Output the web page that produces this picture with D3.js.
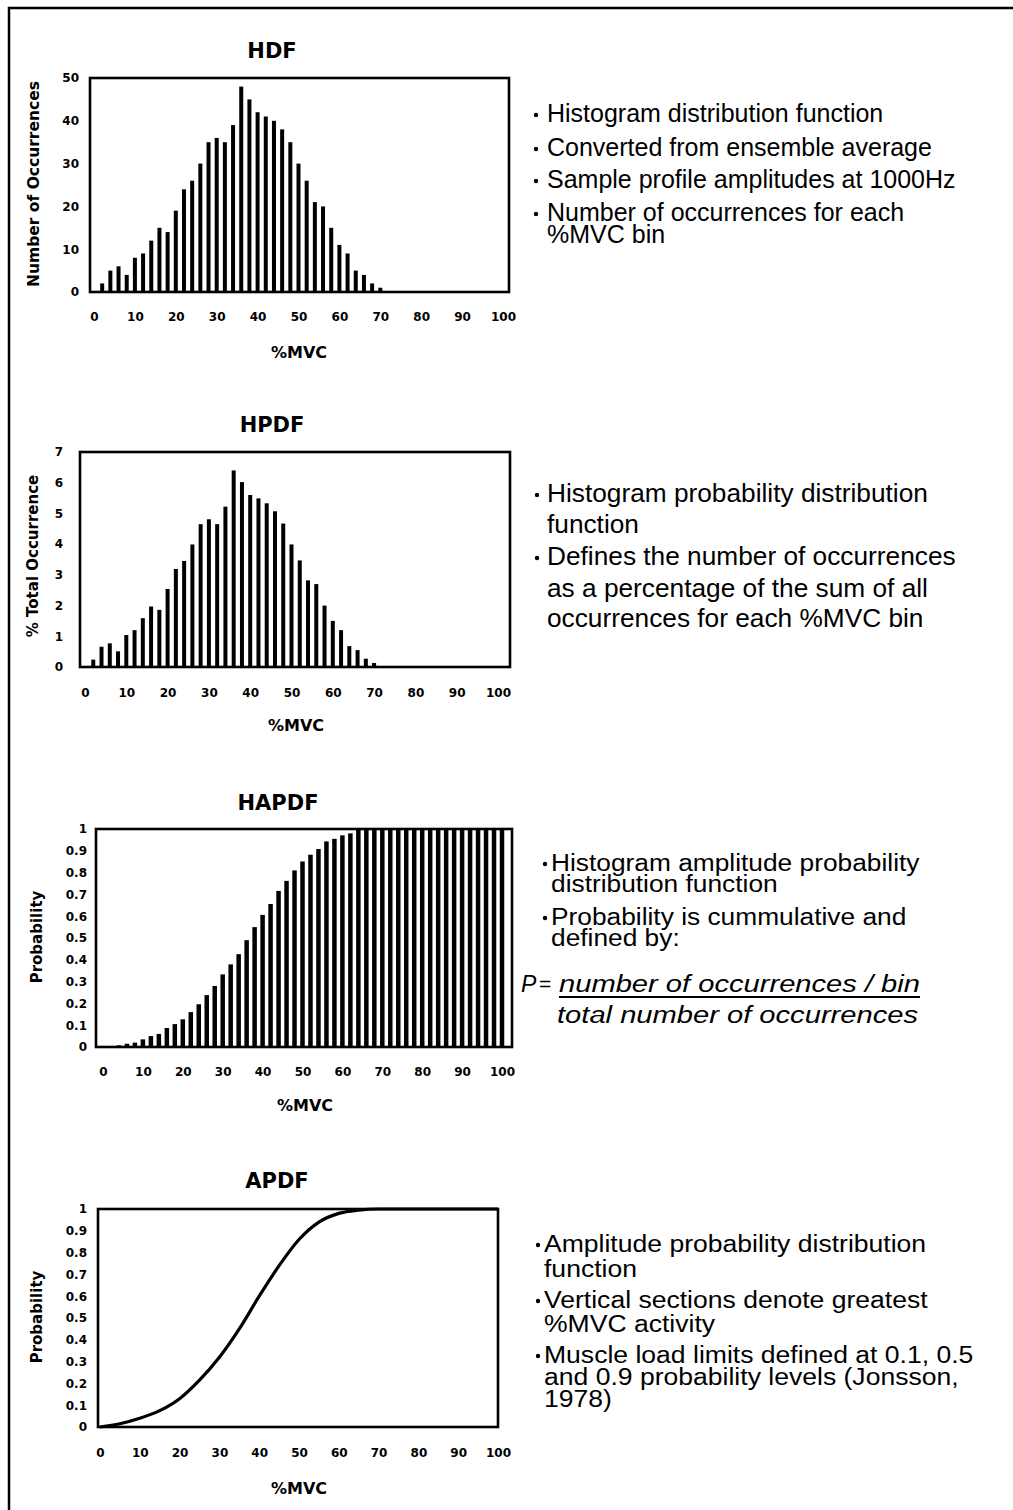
<!DOCTYPE html>
<html>
<head>
<meta charset="utf-8">
<script src="https://cdn.jsdelivr.net/npm/d3@7"></script>
<style>
body{margin:0;background:#fff}
svg{display:block}
</style>
</head>
<body>
<svg id="chart"></svg>
<script>
// %MVC bins (bar positions)
var binMvc = [2,4,6,8,10,12,14,16,18,20,22,24,26,28,30,32,34,36,38,40,
              42,44,46,48,50,52,54,56,58,60,62,64,66,68,70,72,74,76,78,80,
              82,84,86,88,90,92,94,96,98,100]

// HDF - number of occurrences per bin
var hdfCounts = [2,5,6,4,8,9,12,15,14,19,24,26,30,35,36,35,39,48,45,42,
                 41,40,38,35,30,26,21,20,15,11,9,5,4,2,1,0,0,0,0,0,
                 0,0,0,0,0,0,0,0,0,0]

// HPDF - % total occurrence per bin
var hpdfPercent = [0.24,0.66,0.77,0.51,1.04,1.2,1.59,1.97,1.86,2.54,
                   3.19,3.45,3.99,4.65,4.81,4.65,5.22,6.4,6.02,5.6,
                   5.49,5.33,5.07,4.67,3.99,3.47,2.82,2.7,2.0,1.5,
                   1.2,0.68,0.55,0.27,0.13,0,0,0,0,0,
                   0,0,0,0,0,0,0,0,0,0]

// HAPDF - cumulative probability per bin
var hapdfProb = [0.003,0.008,0.015,0.02,0.035,0.05,0.06,0.087,0.105,0.127,
                 0.16,0.196,0.238,0.28,0.333,0.379,0.426,0.49,0.55,0.606,
                 0.656,0.716,0.762,0.81,0.851,0.882,0.908,0.943,0.955,0.971,
                 0.98,1,1,1,1,1,1,1,1,1,
                 1,1,1,1,1,1,1,1,1,1]

// APDF - smooth curve
var apdfMvc  = [0,5,10,15,20,25,30,35,40,45,50,55,60,65,70,80,90,100]
var apdfProb = [0,0.015,0.04,0.075,0.13,0.215,0.32,0.45,0.6,0.74,0.86,0.94,0.98,0.995,1,1,1,1]

// tick labels
var mvcTicks  = [0,10,20,30,40,50,60,70,80,90,100]
var hdfTicks  = [0,10,20,30,40,50]
var hpdfTicks = [0,1,2,3,4,5,6,7]
var probTicks = [0,0.1,0.2,0.3,0.4,0.5,0.6,0.7,0.8,0.9,1]

var screen = {width:1013, height:1510}

var svg = d3.select("#chart")
    .attr("width", screen.width)
    .attr("height", screen.height)

// page frame (top + left edge)
svg.append("path")
    .attr("d", "M9,1510 V8 H1013")
    .attr("fill", "none")
    .attr("stroke", "black")
    .attr("stroke-width", 2.5)

var axisFont = "'DejaVu Sans', Verdana, sans-serif"
var textFont = "'Liberation Sans', Arial, Helvetica, sans-serif"

var drawPanel = function(p)
{
    var g = svg.append("g")

    var xScale = d3.scaleLinear().domain([0,100]).range(p.xRange)
    var yScale = d3.scaleLinear().domain([0,p.yMax]).range([p.bottom, p.top])

    // title
    g.append("text")
        .attr("x", p.titleX).attr("y", p.titleY)
        .attr("text-anchor", "middle")
        .attr("font-family", axisFont).attr("font-weight", "bold")
        .attr("font-size", 21)
        .text(p.title)

    // bars
    if (p.values) {
        g.selectAll("rect.bar")
            .data(p.values.map(function(v,i){ return {x:binMvc[i], y:v} })
                .filter(function(d){ return d.y > 0 }))
            .enter()
            .append("rect")
            .attr("class", "bar")
            .attr("x", function(d){ return xScale(d.x) - p.barW/2 })
            .attr("width", p.barW)
            .attr("y", function(d){ return yScale(d.y) })
            .attr("height", function(d){ return p.bottom - yScale(d.y) })
            .attr("fill", "black")
    }

    // curve
    if (p.curveX) {
        var line = d3.line()
            .x(function(d){ return xScale(d[0]) })
            .y(function(d){ return yScale(d[1]) })
            .curve(d3.curveMonotoneX)
        g.append("path")
            .datum(p.curveX.map(function(x,i){ return [x, p.curveY[i]] }))
            .attr("d", line)
            .attr("fill", "none")
            .attr("stroke", "black")
            .attr("stroke-width", 3.2)
    }

    // plot box
    g.append("rect")
        .attr("x", p.left).attr("y", p.top)
        .attr("width", p.right - p.left).attr("height", p.bottom - p.top)
        .attr("fill", "none")
        .attr("stroke", "black")
        .attr("stroke-width", 2.6)

    // x axis
    var xAxis = g.append("g")
        .attr("transform", "translate(0," + p.xLabY + ")")
        .call(d3.axisBottom(xScale).tickValues(mvcTicks).tickSize(0).tickPadding(0))
    xAxis.select(".domain").remove()
    xAxis.selectAll("text")
        .attr("y", 0).attr("dy", "0.36em")
        .attr("font-family", axisFont).attr("font-weight", "bold")
        .attr("font-size", 12).attr("fill", "black")

    // y axis
    var yAxis = g.append("g")
        .attr("transform", "translate(" + p.yLabRight + ",0)")
        .call(d3.axisLeft(yScale).tickValues(p.yTicks).tickSize(0).tickPadding(0)
            .tickFormat(function(d){ return String(d) }))
    yAxis.select(".domain").remove()
    yAxis.selectAll("text")
        .attr("x", 0)
        .attr("font-family", axisFont).attr("font-weight", "bold")
        .attr("font-size", 12).attr("fill", "black")

    // axis titles
    g.append("text")
        .attr("x", p.mvcX).attr("y", p.mvcY)
        .attr("dy", "0.36em")
        .attr("text-anchor", "middle")
        .attr("font-family", axisFont).attr("font-weight", "bold")
        .attr("font-size", 16)
        .text("%MVC")

    g.append("text")
        .attr("transform", "translate(" + p.yTitleX + "," + p.yTitleY + ") rotate(-90)")
        .attr("dy", "0.36em")
        .attr("text-anchor", "middle")
        .attr("font-family", axisFont).attr("font-weight", "bold")
        .attr("font-size", p.yTitleSize)
        .text(p.yTitle)
}

drawPanel({title:"HDF", titleX:272, titleY:58, yTitle:"Number of Occurrences", yTitleSize:15.5,
    left:90, right:509, top:78, bottom:292, xRange:[94,503], yMax:50, yTicks:hdfTicks,
    yLabRight:79, xLabY:317, mvcX:299, mvcY:352, yTitleX:33, yTitleY:184,
    values:hdfCounts, barW:4})

drawPanel({title:"HPDF", titleX:272, titleY:432, yTitle:"% Total Occurrence", yTitleSize:15,
    left:80, right:510, top:452, bottom:667, xRange:[85,498], yMax:7, yTicks:hpdfTicks,
    yLabRight:63, xLabY:693, mvcX:296, mvcY:725, yTitleX:33, yTitleY:556,
    values:hpdfPercent, barW:4})

drawPanel({title:"HAPDF", titleX:278, titleY:810, yTitle:"Probability", yTitleSize:15,
    left:96, right:512, top:829, bottom:1047, xRange:[103,502], yMax:1, yTicks:probTicks,
    yLabRight:87, xLabY:1072, mvcX:305, mvcY:1105, yTitleX:37, yTitleY:937,
    values:hapdfProb, barW:4.5})

drawPanel({title:"APDF", titleX:277, titleY:1188, yTitle:"Probability", yTitleSize:15,
    left:98, right:498, top:1209, bottom:1427, xRange:[100,498], yMax:1, yTicks:probTicks,
    yLabRight:87, xLabY:1453, mvcX:299, mvcY:1488, yTitleX:37, yTitleY:1317,
    curveX:apdfMvc, curveY:apdfProb})

// notes beside each chart
var notes = [
    {bx:536, tx:547, size:25, sx:1.0, lines:[
        [true, "Histogram distribution function", 122],
        [true, "Converted from ensemble average", 156],
        [true, "Sample profile amplitudes at 1000Hz", 188],
        [true, "Number of occurrences for each", 221],
        [false, "%MVC bin", 243]]},
    {bx:537, tx:547, size:25.5, sx:1.03, lines:[
        [true, "Histogram probability distribution", 502],
        [false, "function", 533],
        [true, "Defines the number of occurrences", 565],
        [false, "as a percentage of the sum of all", 597],
        [false, "occurrences for each %MVC bin", 627]]},
    {bx:545, tx:551, size:23.5, sx:1.12, lines:[
        [true, "Histogram amplitude probability", 871],
        [false, "distribution function", 892],
        [true, "Probability is cummulative and", 925],
        [false, "defined by:", 946]]},
    {bx:538, tx:544, size:23.5, sx:1.13, lines:[
        [true, "Amplitude probability distribution", 1252],
        [false, "function", 1277],
        [true, "Vertical sections denote greatest", 1308],
        [false, "%MVC activity", 1332],
        [true, "Muscle load limits defined at 0.1, 0.5", 1363],
        [false, "and 0.9 probability levels (Jonsson,", 1385],
        [false, "1978)", 1407]]}
]

notes.forEach(function(n)
{
    var g = svg.append("g")
    g.append("g")
        .attr("transform", "translate(" + n.tx + ",0) scale(" + n.sx + ",1)")
        .selectAll("text")
        .data(n.lines)
        .enter()
        .append("text")
        .attr("x", 0)
        .attr("y", function(d){ return d[2] })
        .attr("font-family", textFont)
        .attr("font-size", n.size)
        .text(function(d){ return d[1] })
    g.selectAll("circle")
        .data(n.lines.filter(function(d){ return d[0] }))
        .enter()
        .append("circle")
        .attr("cx", n.bx)
        .attr("cy", function(d){ return d[2] - 7 })
        .attr("r", 2.2)
        .attr("fill", "black")
})

// formula
var f = svg.append("g")
    .attr("font-family", textFont)
    .attr("font-size", 23)
f.append("text").attr("x", 521).attr("y", 992).attr("font-style", "italic").text("P")
f.append("text").attr("x", 539).attr("y", 991).attr("font-size", 21).text("=")
f.append("text").attr("x", 559).attr("y", 992).attr("font-style", "italic")
    .attr("textLength", 361).attr("lengthAdjust", "spacingAndGlyphs")
    .text("number of occurrences / bin")
f.append("line").attr("x1", 559).attr("x2", 920).attr("y1", 997).attr("y2", 997)
    .attr("stroke", "black").attr("stroke-width", 2)
f.append("text").attr("x", 557).attr("y", 1023).attr("font-style", "italic")
    .attr("textLength", 361).attr("lengthAdjust", "spacingAndGlyphs")
    .text("total number of occurrences")
</script>
</body>
</html>
